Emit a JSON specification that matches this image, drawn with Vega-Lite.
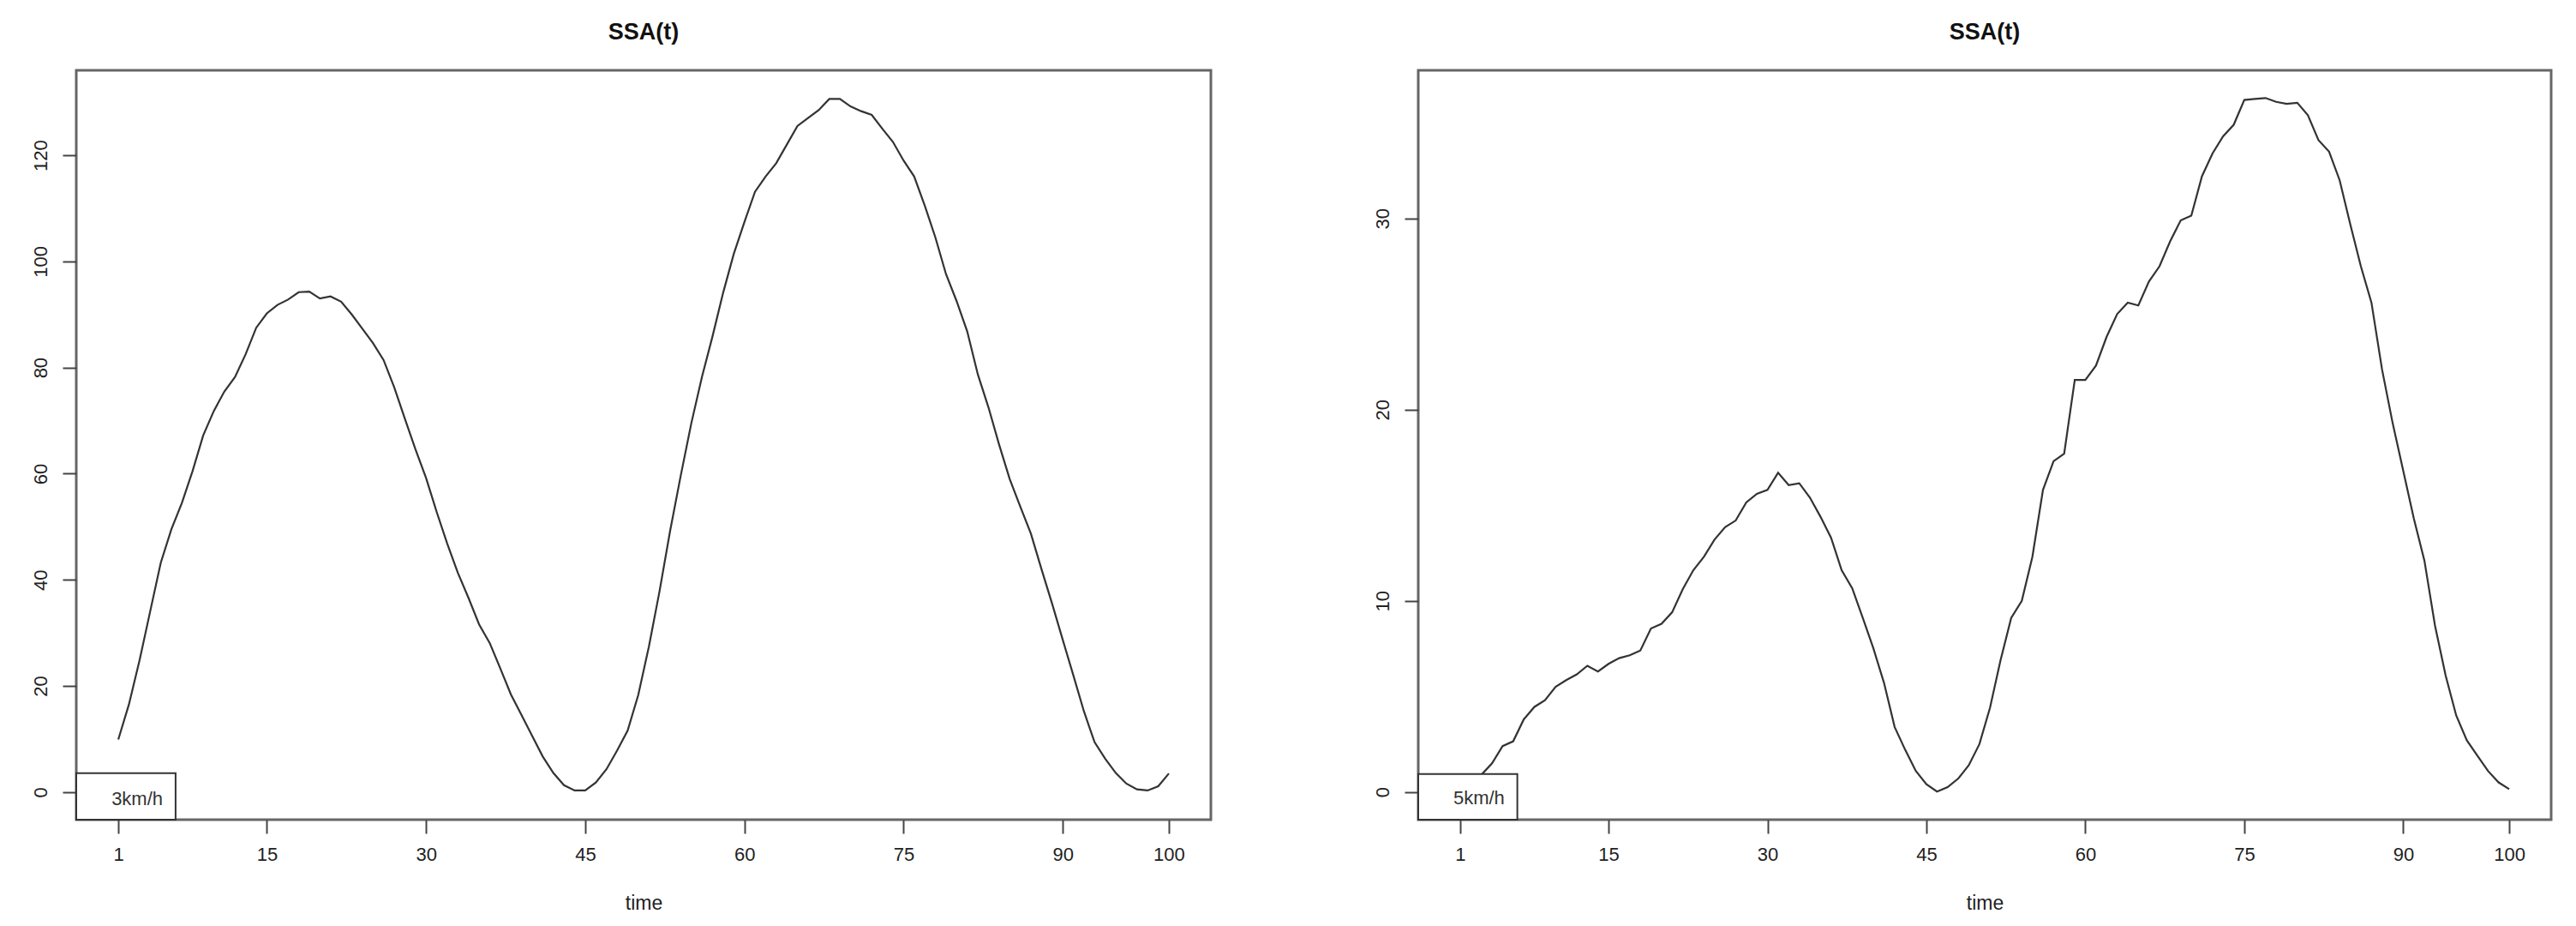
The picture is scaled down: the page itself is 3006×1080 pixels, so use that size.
{
  "$schema": "https://vega.github.io/schema/vega-lite/v6.json",
  "background": "white",
  "padding": {"left": 34, "top": 22, "right": 10, "bottom": 5},
  "spacing": 185,
  "config": {
    "view": {"stroke": "#666", "strokeWidth": 3},
    "font": "Liberation Sans",
    "axis": {"domain": false, "grid": false, "tickColor": "#444", "tickWidth": 2, "tickSize": 16, "labelFont": "Liberation Sans", "labelFontSize": 22, "labelColor": "#222", "titleFont": "Liberation Sans", "titleFontSize": 23, "titleFontWeight": "normal", "titleColor": "#222"},
    "axisX": {"labelPadding": 14, "titlePadding": 35},
    "axisY": {"labelAngle": -90, "labelAlign": "center", "labelBaseline": "bottom", "labelPadding": 14},
    "title": {"font": "Liberation Sans", "fontSize": 27, "fontWeight": "bold", "color": "#111", "offset": 30, "anchor": "middle"}
  },
  "datasets": {
    "s3": [
      {"t":1,"v":9.9},{"t":2,"v":16.5},{"t":3,"v":24.8},{"t":4,"v":34.0},{"t":5,"v":43.2},{"t":6,"v":49.5},{"t":7,"v":54.5},{"t":8,"v":60.5},{"t":9,"v":67.2},{"t":10,"v":71.8},
      {"t":11,"v":75.5},{"t":12,"v":78.2},{"t":13,"v":82.5},{"t":14,"v":87.5},{"t":15,"v":90.2},{"t":16,"v":91.8},{"t":17,"v":92.8},{"t":18,"v":94.2},{"t":19,"v":94.3},{"t":20,"v":93.0},
      {"t":21,"v":93.4},{"t":22,"v":92.4},{"t":23,"v":90.0},{"t":24,"v":87.3},{"t":25,"v":84.6},{"t":26,"v":81.4},{"t":27,"v":76.3},{"t":28,"v":70.4},{"t":29,"v":64.6},{"t":30,"v":59.2},
      {"t":31,"v":52.8},{"t":32,"v":46.8},{"t":33,"v":41.3},{"t":34,"v":36.6},{"t":35,"v":31.6},{"t":36,"v":28.1},{"t":37,"v":23.3},{"t":38,"v":18.4},{"t":39,"v":14.5},{"t":40,"v":10.6},
      {"t":41,"v":6.7},{"t":42,"v":3.6},{"t":43,"v":1.3},{"t":44,"v":0.3},{"t":45,"v":0.3},{"t":46,"v":1.8},{"t":47,"v":4.3},{"t":48,"v":7.8},{"t":49,"v":11.6},{"t":50,"v":18.3},
      {"t":51,"v":27.4},{"t":52,"v":37.8},{"t":53,"v":49.2},{"t":54,"v":59.6},{"t":55,"v":69.5},{"t":56,"v":78.2},{"t":57,"v":85.9},{"t":58,"v":94.1},{"t":59,"v":101.4},{"t":60,"v":107.4},
      {"t":61,"v":113.1},{"t":62,"v":116.0},{"t":63,"v":118.5},{"t":64,"v":122.0},{"t":65,"v":125.5},{"t":66,"v":127.0},{"t":67,"v":128.5},{"t":68,"v":130.6},{"t":69,"v":130.6},{"t":70,"v":129.2},
      {"t":71,"v":128.3},{"t":72,"v":127.6},{"t":73,"v":125.0},{"t":74,"v":122.5},{"t":75,"v":119.0},{"t":76,"v":116.0},{"t":77,"v":110.5},{"t":78,"v":104.5},{"t":79,"v":97.6},{"t":80,"v":92.5},
      {"t":81,"v":86.8},{"t":82,"v":78.7},{"t":83,"v":72.5},{"t":84,"v":65.5},{"t":85,"v":59.0},{"t":86,"v":53.8},{"t":87,"v":48.7},{"t":88,"v":42.0},{"t":89,"v":35.5},{"t":90,"v":28.7},
      {"t":91,"v":22.0},{"t":92,"v":15.2},{"t":93,"v":9.4},{"t":94,"v":6.3},{"t":95,"v":3.6},{"t":96,"v":1.6},{"t":97,"v":0.5},{"t":98,"v":0.3},{"t":99,"v":1.1},{"t":100,"v":3.5}
    ],
    "s5": [
      {"t":1,"v":0.1},{"t":2,"v":0.4},{"t":3,"v":0.9},{"t":4,"v":1.5},{"t":5,"v":2.4},{"t":6,"v":2.65},{"t":7,"v":3.8},{"t":8,"v":4.45},{"t":9,"v":4.8},{"t":10,"v":5.5},
      {"t":11,"v":5.85},{"t":12,"v":6.15},{"t":13,"v":6.6},{"t":14,"v":6.3},{"t":15,"v":6.7},{"t":16,"v":7.0},{"t":17,"v":7.15},{"t":18,"v":7.4},{"t":19,"v":8.55},{"t":20,"v":8.8},
      {"t":21,"v":9.4},{"t":22,"v":10.6},{"t":23,"v":11.6},{"t":24,"v":12.3},{"t":25,"v":13.2},{"t":26,"v":13.85},{"t":27,"v":14.2},{"t":28,"v":15.15},{"t":29,"v":15.6},{"t":30,"v":15.8},
      {"t":31,"v":16.7},{"t":32,"v":16.05},{"t":33,"v":16.15},{"t":34,"v":15.4},{"t":35,"v":14.4},{"t":36,"v":13.3},{"t":37,"v":11.6},{"t":38,"v":10.65},{"t":39,"v":9.1},{"t":40,"v":7.5},
      {"t":41,"v":5.7},{"t":42,"v":3.4},{"t":43,"v":2.2},{"t":44,"v":1.1},{"t":45,"v":0.4},{"t":46,"v":0.02},{"t":47,"v":0.25},{"t":48,"v":0.7},{"t":49,"v":1.4},{"t":50,"v":2.5},
      {"t":51,"v":4.4},{"t":52,"v":6.9},{"t":53,"v":9.1},{"t":54,"v":10.0},{"t":55,"v":12.3},{"t":56,"v":15.8},{"t":57,"v":17.3},{"t":58,"v":17.7},{"t":59,"v":21.55},{"t":60,"v":21.55},
      {"t":61,"v":22.3},{"t":62,"v":23.8},{"t":63,"v":25.0},{"t":64,"v":25.6},{"t":65,"v":25.45},{"t":66,"v":26.7},{"t":67,"v":27.5},{"t":68,"v":28.8},{"t":69,"v":29.9},{"t":70,"v":30.15},
      {"t":71,"v":32.2},{"t":72,"v":33.4},{"t":73,"v":34.3},{"t":74,"v":34.9},{"t":75,"v":36.2},{"t":76,"v":36.25},{"t":77,"v":36.3},{"t":78,"v":36.1},{"t":79,"v":36.0},{"t":80,"v":36.05},
      {"t":81,"v":35.4},{"t":82,"v":34.1},{"t":83,"v":33.5},{"t":84,"v":32.0},{"t":85,"v":29.7},{"t":86,"v":27.5},{"t":87,"v":25.6},{"t":88,"v":22.1},{"t":89,"v":19.3},{"t":90,"v":16.8},
      {"t":91,"v":14.3},{"t":92,"v":12.1},{"t":93,"v":8.7},{"t":94,"v":6.1},{"t":95,"v":4.0},{"t":96,"v":2.7},{"t":97,"v":1.9},{"t":98,"v":1.1},{"t":99,"v":0.5},{"t":100,"v":0.15}
    ]
  },
  "hconcat": [
    {
      "width": 1324, "height": 874, "title": "SSA(t)",
      "layer": [
        {
          "data": {"name": "s3"},
          "mark": {"type": "line", "color": "#333", "strokeWidth": 2.2},
          "encoding": {
            "x": {"field": "t", "type": "quantitative", "scale": {"domain": [-2.96, 103.96], "nice": false, "zero": false}, "axis": {"values": [1, 15, 30, 45, 60, 75, 90, 100], "title": "time"}},
            "y": {"field": "v", "type": "quantitative", "scale": {"domain": [-5.2, 136.0], "nice": false, "zero": false}, "axis": {"values": [0, 20, 40, 60, 80, 100, 120], "title": null}}
          }
        },
        {
          "data": {"values": [{"label": "3km/h"}]},
          "mark": {"type": "rect", "fill": "white", "stroke": "#333", "strokeWidth": 2},
          "encoding": {"x": {"datum": -2.96}, "x2": {"datum": 6.4}, "y": {"datum": -5.2}, "y2": {"datum": 3.55}}
        },
        {
          "data": {"values": [{"label": "3km/h"}]},
          "mark": {"type": "text", "fontSize": 22, "color": "#333", "align": "center", "baseline": "middle", "font": "Liberation Sans"},
          "encoding": {"x": {"datum": 2.78}, "y": {"datum": -1.3}, "text": {"field": "label"}}
        }
      ]
    },
    {
      "width": 1322, "height": 874, "title": "SSA(t)",
      "layer": [
        {
          "data": {"name": "s5"},
          "mark": {"type": "line", "color": "#333", "strokeWidth": 2.2},
          "encoding": {
            "x": {"field": "t", "type": "quantitative", "scale": {"domain": [-2.96, 103.96], "nice": false, "zero": false}, "axis": {"values": [1, 15, 30, 45, 60, 75, 90, 100], "title": "time"}},
            "y": {"field": "v", "type": "quantitative", "scale": {"domain": [-1.45, 37.75], "nice": false, "zero": false}, "axis": {"values": [0, 10, 20, 30], "title": null}}
          }
        },
        {
          "data": {"values": [{"label": "5km/h"}]},
          "mark": {"type": "rect", "fill": "white", "stroke": "#333", "strokeWidth": 2},
          "encoding": {"x": {"datum": -2.96}, "x2": {"datum": 6.39}, "y": {"datum": -1.45}, "y2": {"datum": 0.94}}
        },
        {
          "data": {"values": [{"label": "5km/h"}]},
          "mark": {"type": "text", "fontSize": 22, "color": "#333", "align": "center", "baseline": "middle", "font": "Liberation Sans"},
          "encoding": {"x": {"datum": 2.77}, "y": {"datum": -0.31}, "text": {"field": "label"}}
        }
      ]
    }
  ]
}
